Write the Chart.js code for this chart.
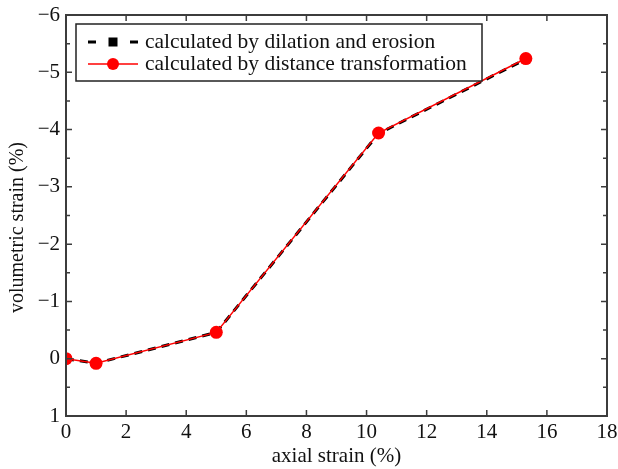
<!DOCTYPE html>
<html>
<head>
<meta charset="utf-8">
<script src="https://cdn.jsdelivr.net/npm/chart.js@4/dist/chart.umd.min.js"></script>
<style>
  html, body { margin: 0; padding: 0; background: #fff; }
  #wrap { width: 618px; height: 469px; }
</style>
</head>
<body>
<div id="wrap"><canvas id="strainChart" width="618" height="469"></canvas></div>
<script>
const axialStrain = [0, 1, 5, 10.4, 15.3];
const dilationErosion = [0, 0.08, -0.46, -3.93, -5.23];
const distanceTransform = [0, 0.08, -0.46, -3.94, -5.24];
const seriesNames = ["calculated by dilation and erosion", "calculated by distance transformation"];
const xTicks = [0, 2, 4, 6, 8, 10, 12, 14, 16, 18];
const yTicks = [-6, -5, -4, -3, -2, -1, 0, 1];

const serif = "'Liberation Serif', 'Times New Roman', serif";
const axisColor = "#3c3c3c";
const fontSize = 21;

function pts(ys) {
  return axialStrain.map((x, i) => ({ x: x, y: ys[i] }));
}

function fmt(v) {
  return v < 0 ? "\u2212" + Math.abs(v) : String(v);
}

// frame with inward ticks on all four sides
const framePlugin = {
  id: "frame",
  afterDraw(c) {
    const ctx = c.ctx;
    const a = c.chartArea;
    const xs = c.scales.x, ys = c.scales.y;
    ctx.save();
    ctx.strokeStyle = axisColor;
    ctx.lineWidth = 2;
    ctx.strokeRect(a.left, a.top, a.right - a.left, a.bottom - a.top);
    ctx.lineWidth = 1.5;
    ctx.beginPath();
    xTicks.forEach(v => {
      const px = xs.getPixelForValue(v);
      ctx.moveTo(px, a.bottom); ctx.lineTo(px, a.bottom - 6);
      ctx.moveTo(px, a.top); ctx.lineTo(px, a.top + 6);
    });
    ys.ticks.forEach(t => {
      const py = ys.getPixelForValue(t.value);
      const len = Number.isInteger(t.value) ? 6 : 4;
      ctx.moveTo(a.left, py); ctx.lineTo(a.left + len, py);
      ctx.moveTo(a.right, py); ctx.lineTo(a.right - len, py);
    });
    ctx.stroke();
    ctx.restore();
  }
};

// boxed legend in the top-left corner of the plot
const legendPlugin = {
  id: "boxLegend",
  afterDraw(c) {
    const ctx = c.ctx;
    const a = c.chartArea;
    const bx = a.left + 10, by = a.top + 9, bw = 406, bh = 57;
    ctx.save();
    ctx.fillStyle = "#fff";
    ctx.fillRect(bx, by, bw, bh);
    ctx.strokeStyle = "#222";
    ctx.lineWidth = 1.5;
    ctx.strokeRect(bx, by, bw, bh);

    const y1 = by + 18, y2 = by + 40;
    const x0 = bx + 12, x1 = bx + 62, xm = bx + 37;
    // dashed black with square: dash, square, dash
    ctx.strokeStyle = "#000";
    ctx.lineWidth = 3;
    ctx.beginPath();
    ctx.moveTo(x0, y1); ctx.lineTo(x0 + 8, y1);
    ctx.moveTo(x1 - 8, y1); ctx.lineTo(x1, y1);
    ctx.stroke();
    ctx.fillStyle = "#000";
    ctx.fillRect(xm - 4.5, y1 - 4.5, 9, 9);
    // red line with circle
    ctx.strokeStyle = "#ff0000";
    ctx.lineWidth = 1.5;
    ctx.beginPath();
    ctx.moveTo(x0, y2); ctx.lineTo(x1, y2);
    ctx.stroke();
    ctx.fillStyle = "#ff0000";
    ctx.beginPath();
    ctx.arc(xm, y2, 6, 0, Math.PI * 2);
    ctx.fill();

    ctx.fillStyle = "#111";
    ctx.font = "21.5px " + serif;
    ctx.textBaseline = "middle";
    ctx.fillText(seriesNames[0], bx + 69, y1);
    ctx.fillText(seriesNames[1], bx + 69, y2);
    ctx.restore();
  }
};

new Chart(document.getElementById("strainChart"), {
  type: "scatter",
  data: {
    datasets: [
      {
        label: seriesNames[0],
        data: pts(dilationErosion),
        showLine: true,
        borderColor: "#000",
        backgroundColor: "#000",
        borderWidth: 3,
        borderDash: [8, 6],
        pointStyle: "rect",
        pointRadius: 6,
        pointBorderWidth: 0,
        order: 2
      },
      {
        label: seriesNames[1],
        data: pts(distanceTransform),
        showLine: true,
        borderColor: "#ff0000",
        backgroundColor: "#ff0000",
        borderWidth: 1.5,
        pointStyle: "circle",
        pointRadius: 6.5,
        pointBorderWidth: 0,
        order: 1
      }
    ]
  },
  options: {
    responsive: false,
    animation: false,
    devicePixelRatio: 1,
    layout: { padding: { top: 15, right: 11, left: 6, bottom: 0 } },
    plugins: {
      legend: { display: false },
      tooltip: { enabled: false }
    },
    scales: {
      x: {
        type: "linear",
        min: 0,
        max: 18,
        grid: { display: false, drawTicks: false },
        border: { display: false },
        afterBuildTicks(s) { s.ticks = xTicks.map(v => ({ value: v })); },
        afterFit(s) { s.height = 53; s.paddingLeft = 0; s.paddingRight = 0; },
        ticks: {
          padding: 4,
          color: "#111",
          font: { family: serif, size: fontSize },
          callback: v => fmt(v)
        },
        title: {
          display: true,
          text: "axial strain (%)",
          color: "#111",
          font: { family: serif, size: fontSize },
          padding: { top: 0, bottom: 0 }
        }
      },
      y: {
        type: "linear",
        reverse: true,
        min: -6,
        max: 1,
        grid: { display: false, drawTicks: false },
        border: { display: false },
        ticks: {
          stepSize: 0.5,
          padding: 6,
          color: "#111",
          font: { family: serif, size: fontSize },
          callback: v => (Number.isInteger(v) && yTicks.includes(v)) ? fmt(v) : ""
        },
        afterFit(s) { s.width = 60; s.paddingTop = 0; s.paddingBottom = 0; },
        title: {
          display: true,
          text: "volumetric strain (%)\u2003\u2009",
          color: "#111",
          font: { family: serif, size: 20 },
          padding: { top: 0, bottom: 2 }
        }
      }
    }
  },
  plugins: [framePlugin, legendPlugin]
});
</script>
</body>
</html>
